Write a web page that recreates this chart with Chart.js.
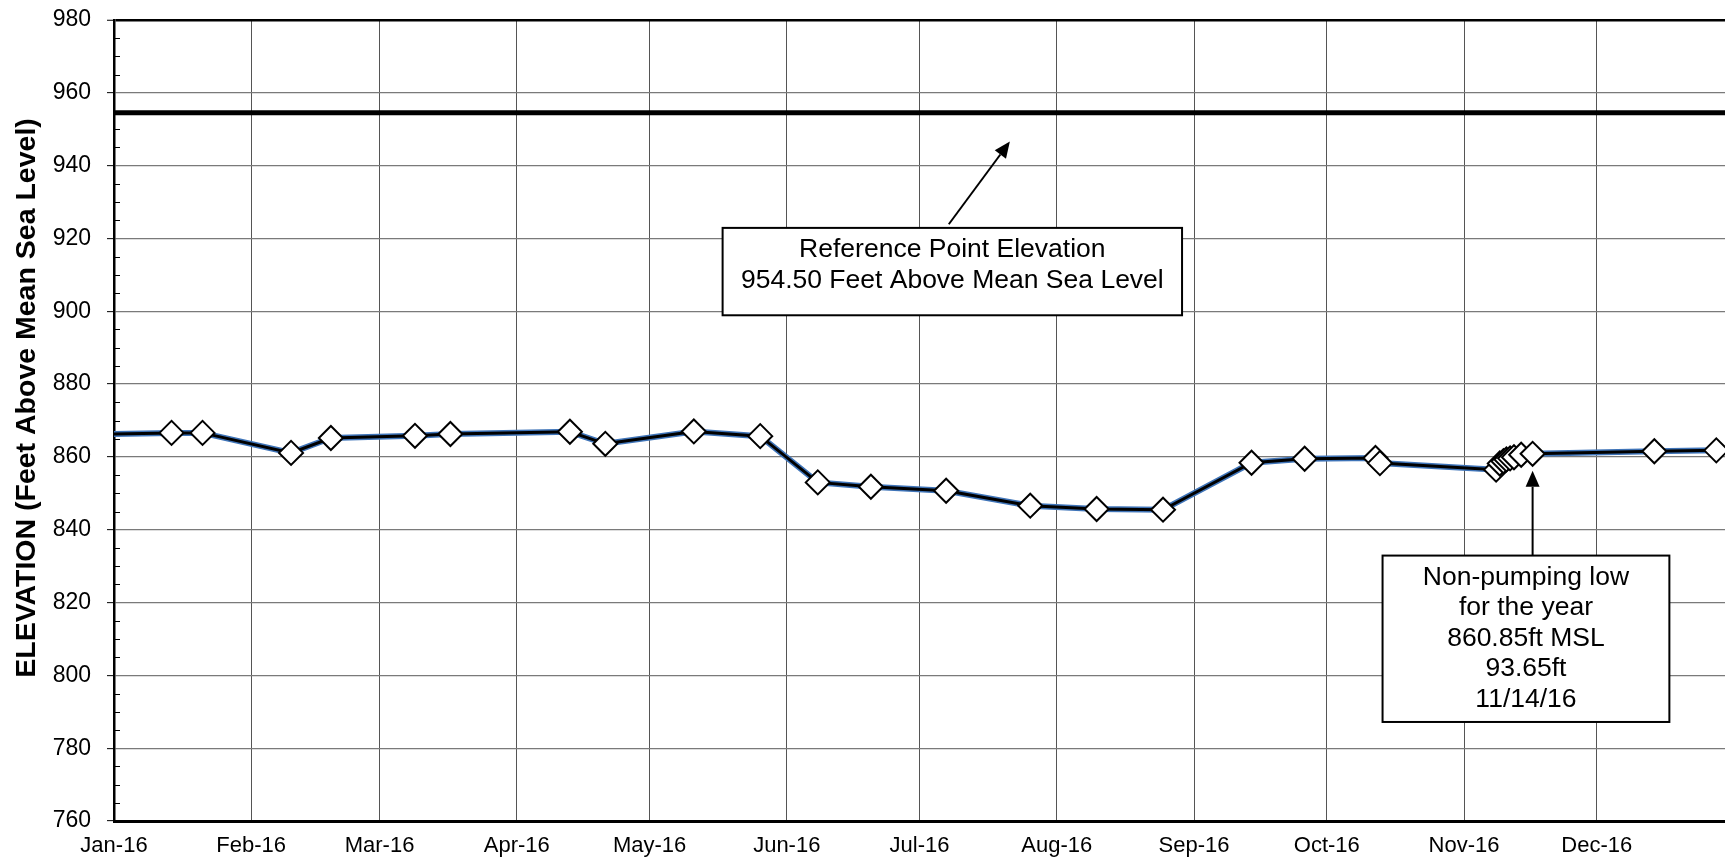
<!DOCTYPE html>
<html>
<head>
<meta charset="utf-8">
<title>Water Level Elevation 2016</title>
<script src="https://cdn.jsdelivr.net/npm/chart.js@4.4.1/dist/chart.umd.min.js"></script>
<style>
  html, body { margin: 0; padding: 0; overflow: hidden; background: #fff; }
  #chart-wrap { position: absolute; left: 0; top: 0; width: 1748px; height: 860px; }
</style>
</head>
<body>
<div id="chart-wrap"><canvas id="elevation-chart" width="1748" height="860"></canvas></div>
<script>
// --- Data ---

// Reading dates (optional hour after the space) and water level elevations (ft MSL)
const readingDates = [
    '2015-12-22', '2016-01-14', '2016-01-21', '2016-02-10', '2016-02-19',
    '2016-03-09', '2016-03-17', '2016-04-13', '2016-04-21', '2016-05-11',
    '2016-05-26', '2016-06-08', '2016-06-20', '2016-07-07', '2016-07-26',
    '2016-08-10', '2016-08-25', '2016-09-14', '2016-09-26', '2016-10-12',
    '2016-10-13', '2016-11-08 06', '2016-11-09 02', '2016-11-09 22', '2016-11-10 14',
    '2016-11-11 10', '2016-11-12 07', '2016-11-13 22', '2016-11-16 12', '2016-12-14',
    '2016-12-28', '2017-01-09'
];
const elevations = [
    866.1, 866.6, 866.6, 861.1, 865.2,
    865.8, 866.3, 866.9, 863.6, 867.0,
    865.7, 853.0, 851.8, 850.7, 846.6,
    845.7, 845.5, 858.4, 859.5, 859.7,
    858.3, 856.5, 858.2, 858.8, 859.3,
    859.6, 859.9, 860.6, 860.85, 861.55,
    861.8, 862.0
];

const referenceElevation = 954.5;
const nonPumpingLowDate = '2016-11-16 12';

const monthStarts = [
    '2016-01-01', '2016-02-01', '2016-03-01', '2016-04-01', '2016-05-01', '2016-06-01',
    '2016-07-01', '2016-08-01', '2016-09-01', '2016-10-01', '2016-11-01', '2016-12-01'
];
const monthLabels = [
    'Jan-16', 'Feb-16', 'Mar-16', 'Apr-16', 'May-16', 'Jun-16',
    'Jul-16', 'Aug-16', 'Sep-16', 'Oct-16', 'Nov-16', 'Dec-16'
];

const elevationMin = 760;
const elevationMax = 980;
const elevationStep = 20;
const minorStep = 5;

const axisTitle = 'ELEVATION (Feet Above Mean Sea Level)';
const referenceNote = ['Reference Point Elevation', '954.50 Feet Above Mean Sea Level'];
const lowNote = ['Non-pumping low', 'for the year', '860.85ft MSL', '93.65ft', '11/14/16'];

const FONT = '"Liberation Sans", Arial, Helvetica, sans-serif';
const YEAR_START = Date.UTC(2016, 0, 1);

/**
 * Converts 'YYYY-MM-DD' or 'YYYY-MM-DD HH' into days since Jan 1, 2016.
 */
function dayOfYear(stamp) {
    const [date, hour] = stamp.split(' ');
    const [y, m, d] = date.split('-').map(Number);
    return (Date.UTC(y, m - 1, d, hour ? Number(hour) : 0) - YEAR_START) / 86400000;
}

const points = readingDates.map((d, i) => ({ x: dayOfYear(d), y: elevations[i] }));
const monthDays = monthStarts.map(dayOfYear);
const lowPoint = points[readingDates.indexOf(nonPumpingLowDate)];

// --- Drawing helpers ---

function drawArrow(ctx, x1, y1, x2, y2) {
    const angle = Math.atan2(y2 - y1, x2 - x1);
    const head = 16, half = 7;
    const bx = x2 - head * Math.cos(angle);
    const by = y2 - head * Math.sin(angle);
    ctx.strokeStyle = '#000';
    ctx.fillStyle = '#000';
    ctx.lineWidth = 2;
    ctx.beginPath();
    ctx.moveTo(x1, y1);
    ctx.lineTo(bx, by);
    ctx.stroke();
    ctx.beginPath();
    ctx.moveTo(x2, y2);
    ctx.lineTo(bx + half * Math.sin(angle), by - half * Math.cos(angle));
    ctx.lineTo(bx - half * Math.sin(angle), by + half * Math.cos(angle));
    ctx.closePath();
    ctx.fill();
}

function drawNoteBox(ctx, left, top, right, bottom, lines) {
    ctx.fillStyle = '#fff';
    ctx.fillRect(left, top, right - left, bottom - top);
    ctx.strokeStyle = '#000';
    ctx.lineWidth = 2;
    ctx.strokeRect(left, top, right - left, bottom - top);
    ctx.fillStyle = '#000';
    ctx.font = '26.5px ' + FONT;
    ctx.textAlign = 'center';
    ctx.textBaseline = 'middle';
    const cx = (left + right) / 2;
    lines.forEach((line, i) => ctx.fillText(line, cx, top + 22 + i * 30.5));
}

// Minor tick marks, rotated axis title and the two callouts
const overlayPlugin = {
    id: 'overlay',
    afterDraw(chart) {
        const { ctx, scales: { x, y } } = chart;
        ctx.save();

        // minor ticks on the inside of the elevation axis
        ctx.strokeStyle = '#000';
        ctx.lineWidth = 1;
        for (let v = elevationMin; v <= elevationMax; v += minorStep) {
            if (v % elevationStep === 0) continue;
            const py = Math.round(y.getPixelForValue(v)) + 0.5;
            ctx.beginPath();
            ctx.moveTo(x.left, py);
            ctx.lineTo(x.left + 6, py);
            ctx.stroke();
        }

        // axis title
        ctx.save();
        ctx.translate(27, 398);
        ctx.rotate(-Math.PI / 2);
        ctx.font = 'bold 28.5px ' + FONT;
        ctx.fillStyle = '#000';
        ctx.textAlign = 'center';
        ctx.textBaseline = 'middle';
        ctx.fillText(axisTitle, 0, 0);
        ctx.restore();

        // reference point callout
        drawArrow(ctx,
            x.getPixelForValue(188.6), y.getPixelForValue(923.9),
            x.getPixelForValue(202.4), y.getPixelForValue(946.6));
        drawNoteBox(ctx,
            x.getPixelForValue(137.5), y.getPixelForValue(922.9),
            x.getPixelForValue(241.3), y.getPixelForValue(898.9),
            referenceNote);

        // non-pumping low callout
        const boxTop = y.getPixelForValue(832.9);
        const lowX = x.getPixelForValue(lowPoint.x);
        drawArrow(ctx, lowX, boxTop, lowX, y.getPixelForValue(lowPoint.y) + 17);
        drawNoteBox(ctx,
            x.getPixelForValue(286.6), boxTop,
            x.getPixelForValue(351.4), y.getPixelForValue(787.2),
            lowNote);

        ctx.restore();
    }
};

// --- Chart ---

const chartCanvas = document.getElementById('elevation-chart').getContext('2d');

new Chart(chartCanvas, {
    type: 'line',
    data: {
        datasets: [
            {
                data: points,
                borderColor: '#000',
                borderWidth: 3,
                pointStyle: 'rectRot',
                pointRadius: 12,
                pointBackgroundColor: '#fff',
                pointBorderColor: '#000',
                pointBorderWidth: 2,
                tension: 0,
                clip: 0,
                order: 1
            },
            {
                data: points,
                borderColor: '#3f74b8',
                borderWidth: 6,
                pointRadius: 0,
                tension: 0,
                clip: 0,
                order: 2
            },
            {
                data: [{ x: -30, y: referenceElevation }, { x: 400, y: referenceElevation }],
                borderColor: '#000',
                borderWidth: 5,
                pointRadius: 0,
                clip: 0,
                order: 3
            }
        ]
    },
    options: {
        responsive: false,
        animation: false,
        events: [],
        layout: { padding: { top: 20, left: 0, right: 5, bottom: 0 } },
        plugins: {
            legend: { display: false },
            tooltip: { enabled: false }
        },
        scales: {
            x: {
                type: 'linear',
                min: 0,
                max: dayOfYear('2017-01-01'),
                afterBuildTicks: (scale) => { scale.ticks = monthDays.map(v => ({ value: v })); },
                afterFit: (scale) => { scale.height = 39; },
                ticks: {
                    autoSkip: false,
                    maxRotation: 0,
                    padding: 12,
                    color: '#000',
                    font: { family: FONT, size: 22 },
                    callback: (value, index) => monthLabels[index]
                },
                grid: { color: '#555', lineWidth: 1, drawTicks: false },
                border: { color: '#000', width: 3 }
            },
            y: {
                min: elevationMin,
                max: elevationMax,
                afterFit: (scale) => {
                    scale.width = 114;
                    scale.paddingTop = 0;
                    scale.paddingBottom = 0;
                },
                ticks: {
                    stepSize: elevationStep,
                    padding: 16,
                    color: '#000',
                    font: { family: FONT, size: 23 }
                },
                grid: {
                    color: (c) => (c.tick && c.tick.value === elevationMax ? '#000' : '#7a7a7a'),
                    lineWidth: (c) => (c.tick && c.tick.value === elevationMax ? 2.5 : 1.3),
                    tickLength: 7,
                    tickColor: '#000',
                    tickWidth: 1
                },
                border: { color: '#000', width: 2.5 }
            }
        }
    },
    plugins: [overlayPlugin]
});
</script>
</body>
</html>
